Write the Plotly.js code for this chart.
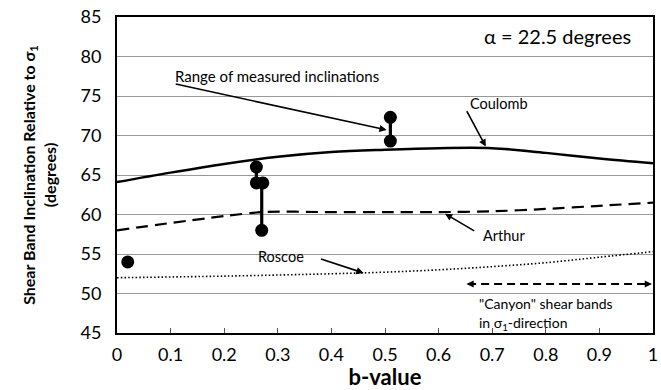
<!DOCTYPE html>
<html>
<head>
<meta charset="utf-8">
<script src="https://cdn.plot.ly/plotly-3.0.1.min.js"></script>
<style>html,body{margin:0;padding:0;background:#fff;}#chart{width:661px;height:390px;}</style>
</head>
<body>
<div id="chart"></div>
<script>
// Theory curves
const coulombB = [0, 0.1, 0.2, 0.3, 0.4, 0.5, 0.6, 0.7, 0.8, 0.9, 1.0];
const coulombAngle = [64.1, 65.3, 66.4, 67.3, 67.9, 68.2, 68.4, 68.4, 67.8, 67.1, 66.5];
const arthurB = [0, 0.27, 0.4, 0.5, 0.6, 0.7, 0.8, 0.9, 1.0];
const arthurAngle = [58.0, 60.3, 60.3, 60.3, 60.3, 60.4, 60.7, 61.1, 61.5];
const roscoeB = [0, 0.2, 0.4, 0.5, 0.6, 0.7, 0.8, 0.9, 1.0];
const roscoeAngle = [52.0, 52.2, 52.5, 52.7, 53.0, 53.4, 53.9, 54.6, 55.3];
// Measured inclinations
const measuredB = [0.02, 0.26, 0.26, 0.272, 0.27, 0.51, 0.51];
const measuredAngle = [54, 66, 64, 64, 58, 72.3, 69.3];
// Measured ranges (vertical bars)
const rangeB = [0.26, 0.27, 0.51];
const rangeTop = [66, 64, 72.3];
const rangeBottom = [64, 58, 69.3];
// Canyon band range
const canyonB = [0.655, 0.995];
const canyonAngle = [51.2, 51.2];
// Axis ticks
const xTicks = [0, 0.1, 0.2, 0.3, 0.4, 0.5, 0.6, 0.7, 0.8, 0.9, 1];
const xTickText = ['0', '0.1', '0.2', '0.3', '0.4', '0.5', '0.6', '0.7', '0.8', '0.9', '1'];
const yTicks = [45, 50, 55, 60, 65, 70, 75, 80, 85];

const rx = [], ry = [];
rangeB.forEach((b, i) => { rx.push(b, b, null); ry.push(rangeTop[i], rangeBottom[i], null); });

const FONT = 'Lato, "Open Sans", sans-serif';

const traces = [
  {x: coulombB, y: coulombAngle, mode: 'lines', line: {color: '#000', width: 2.5, shape: 'spline'}, hoverinfo: 'skip'},
  {x: arthurB, y: arthurAngle, mode: 'lines', line: {color: '#000', width: 2.2, dash: '12px,7px', shape: 'spline', smoothing: 0.6}, hoverinfo: 'skip'},
  {x: roscoeB, y: roscoeAngle, mode: 'lines', line: {color: '#000', width: 1.6, dash: '1.5px,2.2px', shape: 'spline'}, hoverinfo: 'skip'},
  {x: rx, y: ry, mode: 'lines', line: {color: '#000', width: 3.2}, hoverinfo: 'skip'},
  {x: measuredB, y: measuredAngle, mode: 'markers', marker: {color: '#000', size: 13}, hoverinfo: 'skip'},
  {x: canyonB, y: canyonAngle, mode: 'lines', line: {color: '#000', width: 2, dash: '8px,5px'}, hoverinfo: 'skip'}
];

const arrow = (x, y, ax, ay) => ({x, y, ax, ay, xref: 'x', yref: 'y', axref: 'x', ayref: 'y', text: ' ', showarrow: true, arrowhead: 2, arrowsize: 0.9, arrowwidth: 1.6, arrowcolor: '#000'});
const label = (x, y, text, size, xanchor) => ({x, y, xref: 'x', yref: 'y', text, showarrow: false, xanchor: xanchor || 'left', yanchor: 'middle', font: {family: FONT, size: size || 14.5, color: '#000'}});

const annotations = [
  label(0.963, 82.6, 'α = 22.5 degrees', 20, 'right'),
  label(0.105, 77.5, 'Range of measured inclinations', 15),
  arrow(0.503, 70.7, 0.104, 76.6),
  label(0.655, 74.0, 'Coulomb', 14.5),
  arrow(0.688, 68.6, 0.647, 73.8),
  label(0.68, 57.3, 'Arthur', 14.5),
  arrow(0.612, 60.1, 0.672, 57.7),
  label(0.26, 54.7, 'Roscoe', 14.5),
  arrow(0.46, 52.6, 0.375, 54.5),
  arrow(0.652, 51.2, 0.67, 51.2),
  arrow(0.998, 51.2, 0.98, 51.2),
  label(0.672, 48.7, '"Canyon" shear bands', 14),
  label(0.672, 46.2, 'in σ<sub>1</sub>-direction', 14)
];

const layout = {
  width: 661, height: 390,
  margin: {l: 117, r: 8, t: 17, b: 57},
  paper_bgcolor: '#fff', plot_bgcolor: '#fff',
  showlegend: false,
  font: {family: FONT, color: '#000'},
  xaxis: {
    range: [0, 1], tickvals: xTicks, ticktext: xTickText,
    ticks: 'inside', ticklen: 5, tickwidth: 1, tickcolor: '#555',
    showgrid: false, zeroline: false,
    showline: true, linecolor: '#000', linewidth: 2, mirror: true,
    tickfont: {family: FONT, size: 18, color: '#000'},
    ticklabelstandoff: 4,
    title: {text: 'b-value', font: {family: FONT, size: 22, color: '#000', weight: 'bold'}, standoff: 6}
  },
  yaxis: {
    range: [45, 85], tickvals: yTicks,
    ticks: '', showgrid: true, gridcolor: '#999', gridwidth: 1, zeroline: false,
    showline: true, linecolor: '#000', linewidth: 2, mirror: true,
    tickfont: {family: FONT, size: 18, color: '#000'},
    ticklabelstandoff: 10,
    title: {text: 'Shear Band Inclination Relative to σ<sub>1</sub><br>(degrees)', font: {family: FONT, size: 16, color: '#000', weight: 'bold'}, standoff: 20}
  },
  annotations
};

Plotly.newPlot('chart', traces, layout, {displayModeBar: false, staticPlot: true});
</script>
</body>
</html>
